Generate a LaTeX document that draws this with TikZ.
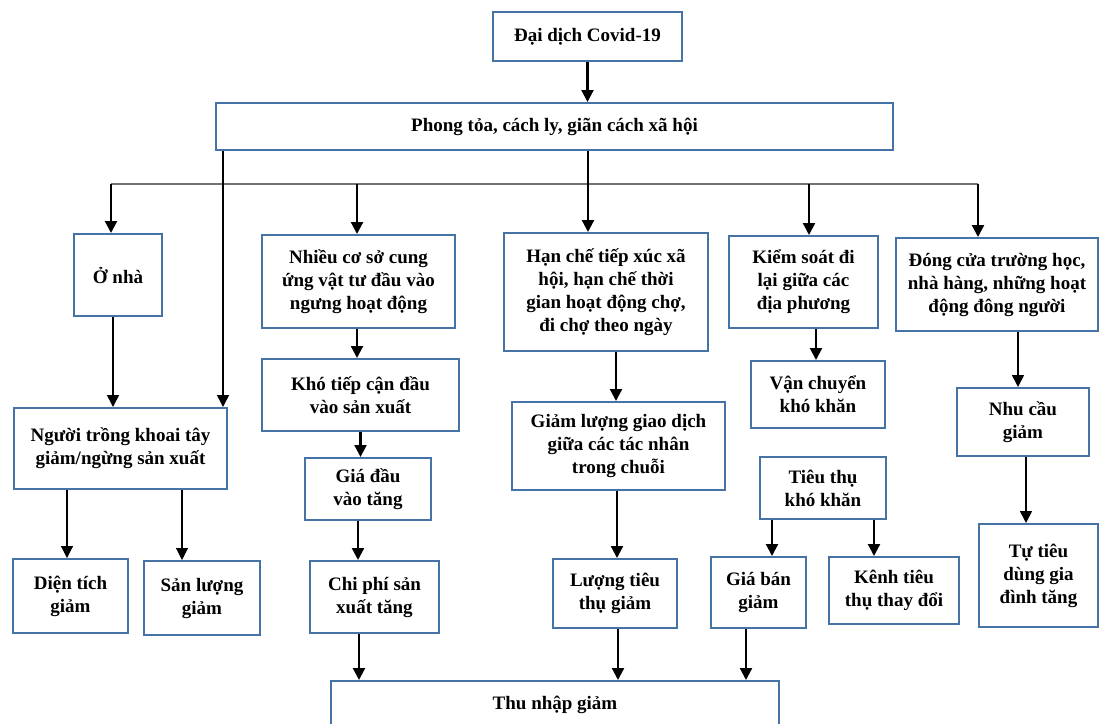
\documentclass[tikz,border=0pt]{standalone}
\usepackage{fontspec}
\setmainfont{Liberation Serif}
\usetikzlibrary{arrows.meta}
\definecolor{boxblue}{RGB}{70,115,165}
\definecolor{linegray}{RGB}{115,115,115}
\begin{document}
\begin{tikzpicture}[x=1pt,y=-1pt,
  box/.style={draw=boxblue,line width=2pt,inner sep=0pt,align=center,
    font=\fontsize{19}{23}\selectfont\bfseries},
  arr/.style={line width=2.2pt,-{Triangle[width=12pt,length=12pt]}},
  medarr/.style={line width=1.6pt,-{Triangle[width=12pt,length=12pt]}},
  thinarr/.style={line width=1.1pt,-{Triangle[width=12pt,length=12pt]}}]
\useasboundingbox (0,0) rectangle (1099,723);
\clip (0,0) rectangle (1099,723);

% nodes
\node[box,minimum width=189pt,minimum height=49pt] (covid) at (587.5,36.5) {Đại dịch Covid-19};
\node[box,minimum width=677pt,minimum height=47pt] (phong) at (554.5,126.5) {Phong tỏa, cách ly, giãn cách xã hội};
\node[box,minimum width=88pt,minimum height=82pt] (onha) at (118,275) {Ở nhà};
\node[box,minimum width=193pt,minimum height=93pt] (nhieu) at (358.5,281.5) {Nhiều cơ sở cung\\ứng vật tư đầu vào\\ngưng  hoạt động};
\node[box,minimum width=204pt,minimum height=118pt] (hanche) at (606,292) {Hạn chế tiếp xúc xã\\hội, hạn chế thời\\gian hoạt động chợ,\\đi chợ theo ngày};
\node[box,minimum width=149pt,minimum height=92pt] (kiemsoat) at (803.5,282) {Kiểm soát đi\\lại giữa các\\địa phương};
\node[box,minimum width=202pt,minimum height=93pt] (dongcua) at (997,284.5) {Đóng cửa trường học,\\nhà hàng, những hoạt\\động đông người};
\node[box,minimum width=213pt,minimum height=81pt] (nguoi) at (120.5,448.5) {Người trồng khoai tây\\giảm/ngừng  sản xuất};
\node[box,minimum width=197pt,minimum height=72pt] (khotiep) at (360.5,395) {Khó tiếp cận đầu\\vào sản xuất};
\node[box,minimum width=126pt,minimum height=62pt] (giadau) at (368,489) {Giá đầu\\vào tăng};
\node[box,minimum width=129pt,minimum height=72pt] (chiphi) at (374.5,597) {Chi phí sản\\xuất tăng};
\node[box,minimum width=213pt,minimum height=88pt] (giamluong) at (618.5,446) {Giảm lượng giao dịch\\giữa các tác nhân\\trong chuỗi};
\node[box,minimum width=124pt,minimum height=69pt] (luongtieu) at (615,593.5) {Lượng tiêu\\thụ giảm};
\node[box,minimum width=134pt,minimum height=67pt] (vanchuyen) at (818,394.5) {Vận chuyển\\khó khăn};
\node[box,minimum width=126pt,minimum height=62pt] (tieuthu) at (823,488) {Tiêu thụ\\khó khăn};
\node[box,minimum width=95pt,minimum height=71pt] (giaban) at (758.5,592.5) {Giá bán\\giảm};
\node[box,minimum width=130pt,minimum height=67pt] (kenh) at (894,590.5) {Kênh tiêu\\thụ thay đổi};
\node[box,minimum width=132pt,minimum height=68pt] (nhucau) at (1023,422) {Nhu cầu\\giảm};
\node[box,minimum width=119pt,minimum height=103pt] (tutieu) at (1038.5,575.5) {Tự tiêu\\dùng gia\\đình tăng};
\node[box,minimum width=115pt,minimum height=74pt] (dientich) at (70.5,596) {Diện tích\\giảm};
\node[box,minimum width=116pt,minimum height=74pt] (sanluong) at (202,598) {Sản lượng\\giảm};
\node[box,minimum width=448pt,minimum height=48pt] (thunhap) at (555,705) {Thu nhập giảm};

% distribution line
\coordinate (hl) at (111,184);
\coordinate (hr) at (978,184);
\draw[linegray,line width=1.4pt] (hl) -- (hr);

% connectors
\draw[arr] (covid.south) -- (covid.south |- phong.north);
\draw[medarr] ([xshift=8pt]phong.south west) -- ([xshift=-5pt]nguoi.north east);
\draw[arr] ([xshift=-7pt]onha.north |- hl) -- ([xshift=-7pt]onha.north);
\draw[arr] ([xshift=-1.5pt]nhieu.north |- hl) -- ([xshift=-1.5pt]nhieu.north);
\draw[arr] ([xshift=-18pt]hanche.north |- phong.south) -- ([xshift=-18pt]hanche.north);
\draw[arr] ([xshift=5.5pt]kiemsoat.north |- hl) -- ([xshift=5.5pt]kiemsoat.north);
\draw[arr] ([xshift=-19pt]dongcua.north |- hl) -- ([xshift=-19pt]dongcua.north);

\draw[medarr] ([xshift=-5pt]onha.south) -- ([xshift=-5pt]onha.south |- nguoi.north);
\draw[thinarr] ([xshift=-3.5pt]dientich.north |- nguoi.south) -- ([xshift=-3.5pt]dientich.north);
\draw[thinarr] ([xshift=-20pt]sanluong.north |- nguoi.south) -- ([xshift=-20pt]sanluong.north);

\draw[arr] ([xshift=-1.5pt]nhieu.south) -- ([xshift=-1.5pt]nhieu.south |- khotiep.north);
\draw[arr] (khotiep.south) -- (khotiep.south |- giadau.north);
\draw[arr] ([xshift=-10pt]giadau.south) -- ([xshift=-10pt]giadau.south |- chiphi.north);
\draw[arr] ([xshift=-15.5pt]chiphi.south) -- ([xshift=-15.5pt]chiphi.south |- thunhap.north);

\draw[arr] ([xshift=10pt]hanche.south) -- ([xshift=10pt]hanche.south |- giamluong.north);
\draw[arr] ([xshift=2pt]luongtieu.north |- giamluong.south) -- ([xshift=2pt]luongtieu.north);
\draw[arr] ([xshift=3pt]luongtieu.south) -- ([xshift=3pt]luongtieu.south |- thunhap.north);

\draw[arr] ([xshift=-2pt]vanchuyen.north |- kiemsoat.south) -- ([xshift=-2pt]vanchuyen.north);
\draw[arr] ([xshift=13.5pt]giaban.north |- tieuthu.south) -- ([xshift=13.5pt]giaban.north);
\draw[arr] ([xshift=-20pt]kenh.north |- tieuthu.south) -- ([xshift=-20pt]kenh.north);
\draw[arr] ([xshift=-12.5pt]giaban.south) -- ([xshift=-12.5pt]giaban.south |- thunhap.north);

\draw[medarr] ([xshift=-5pt]nhucau.north |- dongcua.south) -- ([xshift=-5pt]nhucau.north);
\draw[medarr] ([xshift=3pt]nhucau.south) -- ([xshift=3pt]nhucau.south |- tutieu.north);
\end{tikzpicture}
\end{document}
